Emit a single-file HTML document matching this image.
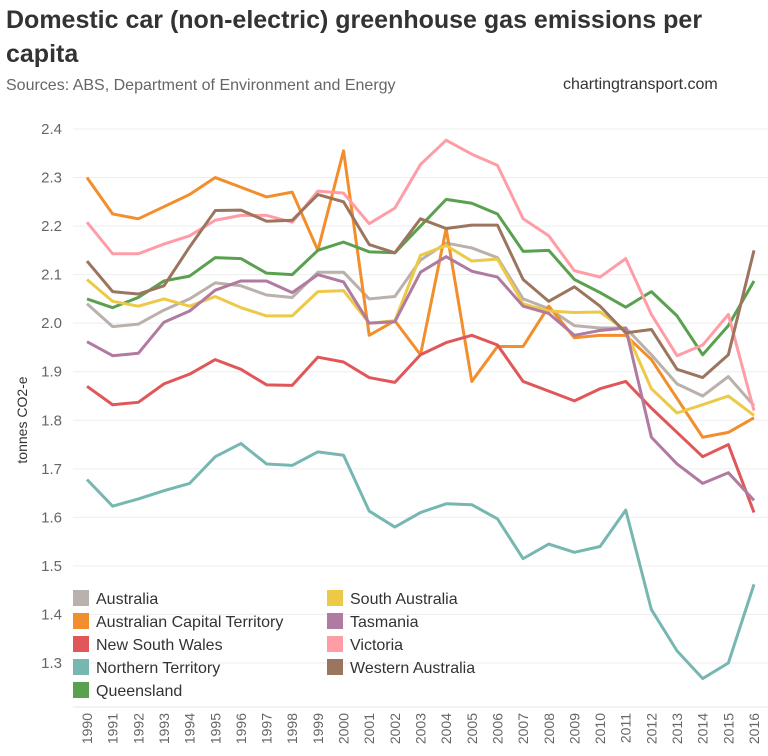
<!DOCTYPE html>
<html><head><meta charset="utf-8">
<style>
body{margin:0;background:#fff;font-family:"Liberation Sans","DejaVu Sans",sans-serif;}
#wrap{position:relative;width:768px;height:756px;overflow:hidden;}
.t{position:absolute;left:6px;font-weight:bold;font-size:25px;color:#333;line-height:34px;}
</style></head><body>
<div id="wrap">
<div class="t" style="top:3px">Domestic car (non-electric) greenhouse gas emissions per<br>capita</div>
<div style="position:absolute;left:6px;top:77px;font-size:16px;color:#666">Sources: ABS, Department of Environment and Energy</div>
<div style="position:absolute;left:563px;top:76px;font-size:16px;color:#333">chartingtransport.com</div>
<svg id="svg" width="768" height="756" style="position:absolute;left:0;top:0"></svg>
</div>
<script>
const years=[1990,1991,1992,1993,1994,1995,1996,1997,1998,1999,2000,2001,2002,2003,2004,2005,2006,2007,2008,2009,2010,2011,2012,2013,2014,2015,2016];
const yTicks=[1.3,1.4,1.5,1.6,1.7,1.8,1.9,2.0,2.1,2.2,2.3,2.4];
const seriesNames=["Australia","Australian Capital Territory","New South Wales","Northern Territory","Queensland","South Australia","Tasmania","Victoria","Western Australia"];
const australia=[2.04,1.993,1.998,2.027,2.05,2.083,2.077,2.058,2.053,2.105,2.105,2.05,2.055,2.13,2.165,2.155,2.135,2.05,2.03,1.995,1.99,1.99,1.935,1.875,1.85,1.89,1.83];
const act=[2.30,2.225,2.215,2.24,2.265,2.30,2.28,2.26,2.27,2.15,2.355,1.975,2.005,1.935,2.195,1.88,1.952,1.952,2.035,1.97,1.975,1.975,1.925,1.845,1.765,1.775,1.805];
const nsw=[1.87,1.832,1.837,1.875,1.895,1.925,1.905,1.873,1.872,1.93,1.92,1.888,1.878,1.935,1.96,1.975,1.955,1.88,1.86,1.84,1.865,1.88,1.825,1.775,1.725,1.75,1.61];
const nt=[1.678,1.623,1.638,1.655,1.67,1.725,1.752,1.71,1.707,1.735,1.728,1.613,1.58,1.61,1.628,1.626,1.597,1.515,1.545,1.528,1.54,1.615,1.41,1.325,1.268,1.30,1.462];
const qld=[2.05,2.032,2.053,2.087,2.097,2.135,2.133,2.103,2.10,2.15,2.167,2.147,2.145,2.20,2.255,2.247,2.225,2.148,2.15,2.09,2.063,2.033,2.065,2.015,1.935,1.995,2.087];
const sa=[2.09,2.045,2.035,2.05,2.035,2.055,2.032,2.015,2.015,2.065,2.067,2.0,2.005,2.14,2.16,2.128,2.132,2.04,2.025,2.022,2.023,1.985,1.865,1.815,1.832,1.85,1.81];
const tas=[1.962,1.933,1.938,2.002,2.025,2.068,2.087,2.087,2.063,2.10,2.085,2.0,2.003,2.105,2.137,2.107,2.095,2.035,2.02,1.975,1.985,1.99,1.765,1.71,1.67,1.692,1.635];
const vic=[2.208,2.143,2.143,2.163,2.18,2.212,2.222,2.222,2.208,2.272,2.268,2.205,2.237,2.327,2.377,2.348,2.325,2.215,2.18,2.108,2.095,2.133,2.018,1.933,1.955,2.018,1.82];
const wa=[2.128,2.065,2.06,2.077,2.157,2.232,2.233,2.21,2.212,2.265,2.25,2.162,2.145,2.215,2.195,2.202,2.202,2.09,2.045,2.075,2.035,1.98,1.987,1.905,1.888,1.935,2.15];

const colors=["#bab0ac","#f28e2b","#e15759","#76b7b2","#59a14f","#edc948","#b07aa1","#ff9da7","#9c755f"];
const data=[australia,act,nsw,nt,qld,sa,tas,vic,wa];
const NS="http://www.w3.org/2000/svg";
const svg=document.getElementById('svg');
const x0=87,x1=754,yTop=129,yBot=663,vTop=2.4,vBot=1.3;
const xs=i=>x0+(x1-x0)*i/(years.length-1);
const ys=v=>yTop+(vTop-v)*(yBot-yTop)/(vTop-vBot);
function mk(tag,attrs){const e=document.createElementNS(NS,tag);for(const k in attrs)e.setAttribute(k,attrs[k]);svg.appendChild(e);return e;}
yTicks.forEach(t=>{
  const g=mk('line',{x1:73,x2:768,y1:ys(t),y2:ys(t),stroke:'#eeeeee','stroke-width':1});
  
  
  const l=mk('text',{x:62,y:ys(t)+5,'text-anchor':'end','font-size':15,fill:'#666'});
  l.textContent=t.toFixed(1);
  
  
});
const ax=mk('line',{x1:73,x2:768,y1:707,y2:707,stroke:'#e6e6e6'});


const yt=mk('text',{x:27,y:420,'text-anchor':'middle','font-size':14,fill:'#333',transform:'rotate(-90 27 420)'});
yt.textContent='tonnes CO2-e';


years.forEach((yr,i)=>{
  const t=mk('text',{x:xs(i)+5,y:713,'text-anchor':'end','font-size':14,fill:'#666',transform:`rotate(-90 ${xs(i)+5} 713)`});
  t.textContent=yr;
  
  
});
data.forEach((s,k)=>{
  const p=mk('polyline',{points:s.map((v,i)=>xs(i)+','+ys(v)).join(' '),fill:'none',stroke:colors[k],'stroke-width':3,'stroke-linejoin':'round'});
  
  
});
seriesNames.forEach((n,k)=>{
  const col=k<5?0:1,row=k<5?k:k-5;
  const sx=col?327:73, cy=598+row*23;
  const r=mk('rect',{x:sx,y:cy-8,width:16,height:16,fill:colors[k]});
  
  
  const t=mk('text',{x:sx+23,y:cy+6,'font-size':16,fill:'#333'});
  t.textContent=n;
  
  
});
</script>
</body></html>
